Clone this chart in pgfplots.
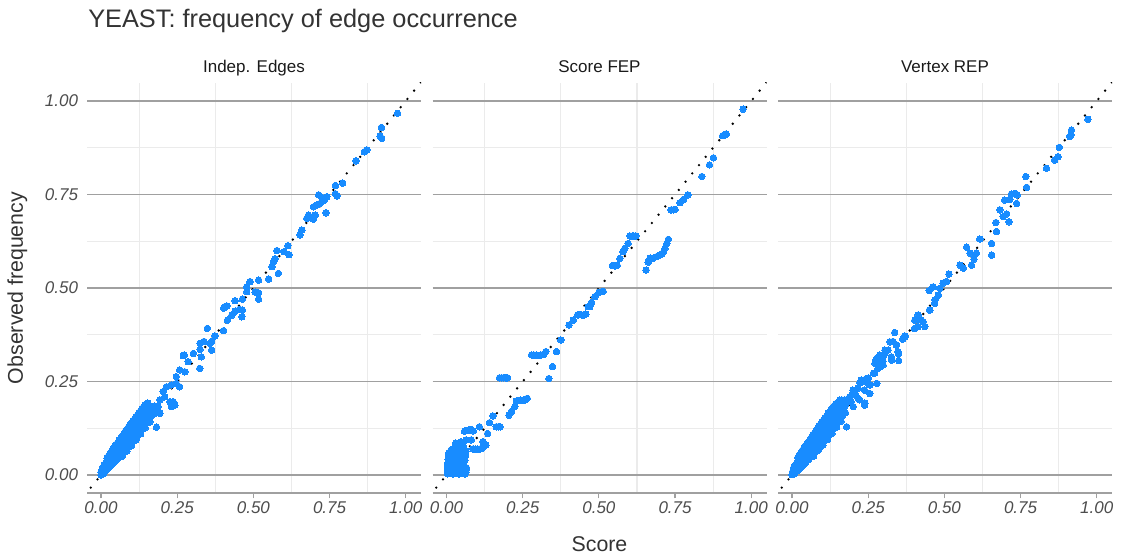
\documentclass[border=0pt]{standalone}
\usepackage{fontspec}
\setmainfont{Liberation Sans}
\usepackage{pgfplots}
\pgfplotsset{compat=1.18}
\definecolor{ptblue}{RGB}{24,140,255}
\definecolor{gridmaj}{RGB}{160,160,160}
\definecolor{gridmin}{RGB}{235,235,235}
\definecolor{ticktext}{RGB}{77,77,77}
\definecolor{titletext}{RGB}{51,51,51}
\definecolor{striptext}{RGB}{26,26,26}
\tikzset{strip/.style={font=\fontsize{12.75}{14}\selectfont, text=striptext, anchor=base, inner sep=0pt}}
\pgfplotsset{
  panel/.style={
    scale only axis, width=250.5pt, height=307.5pt,
    xmin=-0.046, xmax=1.05, ymin=-0.048, ymax=1.048,
    xtick={0,0.25,0.5,0.75,1}, xticklabels={0.00,0.25,0.50,0.75,1.00},
    minor xtick={0.125,0.375,0.625,0.875},
    ytick={0,0.25,0.5,0.75,1},
    minor ytick={0.125,0.375,0.625,0.875},
    xmajorgrids=false, xminorgrids=true, ymajorgrids=true, yminorgrids=true,
    major y grid style={draw=gridmaj, line width=0.9pt},
    minor x grid style={draw=gridmin, line width=0.8pt},
    minor y grid style={draw=gridmin, line width=0.8pt},
    axis x line*=bottom, axis y line*=left,
    x axis line style={draw=gridmaj, line width=0.9pt, -},
    y axis line style={draw=none},
    xtick align=outside,
    major tick length=4pt, minor tick length=0pt,
    xtick style={draw=gridmaj, line width=0.9pt},
    ytick style={draw=none},
    tick label style={font=\fontsize{12.75}{14}\selectfont\itshape, text=ticktext},
    yticklabel style={xshift=-3.2pt},
    xticklabel style={yshift=0.9pt},
    mark size=2.45pt,
  },
  pts/.style={only marks, mark=*, color=ptblue, mark options={draw=ptblue, fill=ptblue, line width=0pt}},
  diag/.style={black, line width=2pt, dash pattern=on 0pt off 8pt, line cap=round},
}
\begin{document}
\begin{tikzpicture}
\path[use as bounding box] (0,0) rectangle (841.5pt,416.25pt);
\node[anchor=base west, inner sep=0pt, font=\fontsize{19}{22}\selectfont, text=titletext] at (66pt,395.6pt) {YEAST: frequency of edge occurrence};
\node[anchor=center, font=\fontsize{16}{18}\selectfont, text=titletext] at (449.6pt,8pt) {Score};
\node[anchor=center, rotate=90, font=\fontsize{16}{18}\selectfont, text=titletext] at (13pt,200.25pt) {Observed frequency};
\node[strip] at (190.5pt,361.7pt) {Indep. Edges};
\node[strip] at (449.625pt,361.7pt) {Score FEP};
\node[strip] at (708.75pt,361.7pt) {Vertex REP};

% ---------------- Panel 1: Indep. Edges ----------------
\begin{axis}[panel, at={(65.25pt,46.5pt)}, anchor=south west,
  yticklabels={0.00,0.25,0.50,0.75,1.00}]
\addplot[pts] coordinates {
(0.000,0.000) (0.000,0.008)
(0.005,0.002) (0.005,0.012) (0.005,0.020)
(0.010,0.006) (0.010,0.016) (0.010,0.026)
(0.015,0.012) (0.015,0.022) (0.015,0.032)
(0.020,0.016) (0.020,0.027) (0.020,0.038) (0.020,0.045)
(0.025,0.020) (0.025,0.032) (0.025,0.044) (0.025,0.052)
(0.030,0.024) (0.030,0.036) (0.030,0.048) (0.030,0.058)
(0.035,0.028) (0.035,0.040) (0.035,0.054) (0.035,0.064)
(0.040,0.032) (0.040,0.045) (0.040,0.058) (0.040,0.070)
(0.045,0.036) (0.045,0.050) (0.045,0.064) (0.045,0.077)
(0.050,0.040) (0.050,0.054) (0.050,0.068) (0.050,0.082)
(0.055,0.045) (0.055,0.059) (0.055,0.073) (0.055,0.087)
(0.060,0.048) (0.060,0.063) (0.060,0.078) (0.060,0.093)
(0.065,0.052) (0.065,0.068) (0.065,0.084) (0.065,0.099)
(0.070,0.056) (0.070,0.072) (0.070,0.089) (0.070,0.105)
(0.075,0.060) (0.075,0.077) (0.075,0.094) (0.075,0.110)
(0.080,0.064) (0.080,0.082) (0.080,0.100) (0.080,0.117)
(0.085,0.069) (0.085,0.087) (0.085,0.105) (0.085,0.122)
(0.090,0.074) (0.090,0.093) (0.090,0.111) (0.090,0.128)
(0.095,0.079) (0.095,0.098) (0.095,0.116) (0.095,0.134)
(0.100,0.084) (0.100,0.103) (0.100,0.122) (0.100,0.140)
(0.105,0.090) (0.105,0.108) (0.105,0.127) (0.105,0.145)
(0.110,0.095) (0.110,0.114) (0.110,0.133) (0.110,0.150)
(0.115,0.100) (0.115,0.119) (0.115,0.138) (0.115,0.156)
(0.120,0.106) (0.120,0.125) (0.120,0.143) (0.120,0.161)
(0.125,0.112) (0.125,0.130) (0.125,0.149) (0.125,0.167)
(0.130,0.118) (0.130,0.136) (0.130,0.154) (0.130,0.172)
(0.135,0.124) (0.135,0.142) (0.135,0.160) (0.135,0.178)
(0.140,0.130) (0.140,0.148) (0.140,0.165) (0.140,0.183)
(0.145,0.136) (0.145,0.153) (0.145,0.171) (0.145,0.188)
(0.150,0.142) (0.150,0.158) (0.150,0.176)
(0.155,0.148) (0.155,0.164) (0.155,0.182)
(0.160,0.152) (0.160,0.170)
(0.168,0.160) (0.168,0.178)
(0.175,0.165) (0.175,0.184)
(0.070,0.050) (0.085,0.064) (0.100,0.079) (0.115,0.094) (0.130,0.110) (0.145,0.126) (0.160,0.142)
(0.154,0.192) (0.160,0.174) (0.176,0.165) (0.193,0.165) (0.182,0.128)
(0.193,0.201) (0.187,0.183) (0.209,0.209) (0.204,0.223) (0.226,0.196)
(0.237,0.196) (0.242,0.187) (0.231,0.183) (0.215,0.236) (0.231,0.241)
(0.247,0.245) (0.258,0.236) (0.247,0.263) (0.258,0.281) (0.275,0.276)
(0.286,0.303) (0.324,0.285) (0.273,0.321) (0.270,0.319) (0.303,0.325)
(0.329,0.316) (0.325,0.336) (0.363,0.334) (0.325,0.352) (0.338,0.357)
(0.357,0.352) (0.363,0.357) (0.374,0.372) (0.349,0.392) (0.402,0.386)
(0.415,0.414) (0.429,0.427) (0.462,0.423) (0.440,0.438) (0.464,0.441)
(0.454,0.443) (0.402,0.446) (0.413,0.452) (0.406,0.450) (0.440,0.466)
(0.464,0.470) (0.517,0.470) (0.517,0.487) (0.506,0.489) (0.478,0.490)
(0.478,0.503) (0.489,0.517) (0.517,0.521) (0.550,0.524) (0.582,0.539)
(0.561,0.557) (0.566,0.570) (0.571,0.578) (0.577,0.600) (0.600,0.597)
(0.617,0.589) (0.613,0.613)
(0.653,0.642) (0.659,0.655) (0.697,0.684) (0.675,0.686) (0.681,0.695)
(0.703,0.695) (0.738,0.701) (0.697,0.717) (0.708,0.722) (0.719,0.726)
(0.733,0.735) (0.741,0.744) (0.725,0.742) (0.714,0.749) (0.769,0.752)
(0.774,0.746) (0.769,0.774) (0.793,0.780) (0.837,0.840) (0.864,0.864)
(0.872,0.869) (0.921,0.900) (0.916,0.906) (0.920,0.929) (0.973,0.967)
};
\addplot[diag] coordinates {(-0.1,-0.1) (1.1,1.1)};
\end{axis}

% ---------------- Panel 2: Score FEP ----------------
\begin{axis}[panel, at={(324.375pt,46.5pt)}, anchor=south west,
  yticklabels={}]
\addplot[pts] coordinates {
(0.003,0.003) (0.003,0.012) (0.003,0.022) (0.004,0.032) (0.005,0.042) (0.006,0.052) (0.008,0.060)
(0.010,0.004) (0.012,0.015) (0.012,0.026) (0.013,0.038) (0.014,0.048) (0.015,0.058) (0.016,0.068)
(0.020,0.003) (0.022,0.012) (0.022,0.022) (0.024,0.034) (0.026,0.045) (0.026,0.056) (0.028,0.066) (0.028,0.076) (0.030,0.085)
(0.030,0.004) (0.032,0.014) (0.034,0.028) (0.036,0.040) (0.036,0.052) (0.038,0.063) (0.040,0.074) (0.042,0.082)
(0.040,0.003) (0.044,0.012) (0.046,0.022) (0.048,0.034) (0.050,0.046) (0.050,0.058) (0.052,0.068) (0.054,0.078)
(0.050,0.004) (0.056,0.014) (0.058,0.026) (0.060,0.040) (0.062,0.052) (0.064,0.064)
(0.060,0.003) (0.064,0.008) (0.066,0.018)
(0.064,0.094) (0.047,0.089) (0.042,0.080)
(0.059,0.117) (0.066,0.119) (0.072,0.120) (0.080,0.122) (0.088,0.118)
(0.108,0.129) (0.135,0.111) (0.124,0.080) (0.129,0.080) (0.119,0.089) (0.081,0.094)
(0.087,0.070) (0.095,0.069) (0.103,0.069) (0.110,0.070) (0.118,0.072)
(0.141,0.140) (0.163,0.129) (0.170,0.129) (0.176,0.129) (0.152,0.158)
(0.205,0.160) (0.213,0.170) (0.224,0.183)
(0.229,0.198) (0.236,0.199) (0.244,0.200) (0.251,0.200) (0.258,0.201) (0.265,0.205)
(0.174,0.260) (0.181,0.260) (0.188,0.260) (0.195,0.260) (0.200,0.260)
(0.279,0.321) (0.287,0.321) (0.295,0.321) (0.303,0.320) (0.310,0.321) (0.318,0.322) (0.326,0.330)
(0.336,0.258) (0.348,0.290) (0.361,0.330) (0.375,0.361)
(0.402,0.401) (0.416,0.414)
(0.430,0.428) (0.437,0.429) (0.444,0.428) (0.450,0.428) (0.457,0.430)
(0.465,0.450) (0.470,0.450) (0.476,0.461) (0.487,0.477)
(0.500,0.488) (0.508,0.490) (0.514,0.491)
(0.545,0.560) (0.552,0.559) (0.560,0.561)
(0.569,0.579) (0.579,0.597) (0.585,0.606) (0.596,0.619)
(0.602,0.639) (0.609,0.639) (0.615,0.639) (0.621,0.639)
(0.655,0.548) (0.662,0.569) (0.668,0.580) (0.679,0.580) (0.690,0.584) (0.699,0.588)
(0.706,0.591) (0.712,0.596) (0.717,0.606) (0.723,0.619) (0.728,0.630)
(0.737,0.709) (0.744,0.709) (0.750,0.710)
(0.766,0.728) (0.778,0.737) (0.792,0.749)
(0.838,0.798) (0.863,0.829) (0.876,0.848)
(0.906,0.907) (0.912,0.909) (0.918,0.911)
(0.973,0.978)
};
\addplot[diag] coordinates {(-0.1,-0.1) (1.1,1.1)};
\end{axis}

% ---------------- Panel 3: Vertex REP ----------------
\begin{axis}[panel, at={(583.5pt,46.5pt)}, anchor=south west,
  yticklabels={}]
\addplot[pts] coordinates {
(0.000,0.001) (0.002,0.009)
(0.006,0.003) (0.006,0.013) (0.006,0.021)
(0.011,0.007) (0.011,0.017) (0.011,0.027)
(0.016,0.011) (0.016,0.023) (0.016,0.034)
(0.021,0.015) (0.021,0.028) (0.021,0.040) (0.019,0.047)
(0.026,0.019) (0.026,0.033) (0.026,0.046) (0.024,0.054)
(0.031,0.023) (0.031,0.037) (0.031,0.050) (0.029,0.060)
(0.036,0.027) (0.036,0.041) (0.036,0.055) (0.034,0.066)
(0.041,0.031) (0.041,0.046) (0.041,0.060) (0.039,0.072)
(0.046,0.035) (0.046,0.051) (0.046,0.066) (0.044,0.079)
(0.051,0.040) (0.051,0.056) (0.051,0.070) (0.049,0.084)
(0.056,0.044) (0.056,0.060) (0.056,0.075) (0.054,0.089)
(0.061,0.048) (0.061,0.065) (0.061,0.080) (0.059,0.095)
(0.066,0.052) (0.066,0.069) (0.066,0.086) (0.064,0.101)
(0.071,0.056) (0.071,0.074) (0.071,0.091) (0.069,0.107)
(0.076,0.061) (0.076,0.079) (0.076,0.096) (0.074,0.113)
(0.081,0.065) (0.081,0.084) (0.081,0.102) (0.079,0.119)
(0.086,0.070) (0.086,0.089) (0.086,0.107) (0.084,0.125)
(0.091,0.075) (0.091,0.094) (0.091,0.113) (0.089,0.131)
(0.096,0.080) (0.096,0.100) (0.096,0.118) (0.094,0.137)
(0.101,0.085) (0.101,0.105) (0.101,0.124) (0.099,0.143)
(0.106,0.091) (0.106,0.110) (0.106,0.129) (0.104,0.148)
(0.111,0.096) (0.111,0.116) (0.111,0.135) (0.109,0.153)
(0.116,0.101) (0.116,0.121) (0.116,0.140) (0.114,0.159)
(0.121,0.107) (0.121,0.127) (0.121,0.146) (0.119,0.165)
(0.126,0.113) (0.126,0.132) (0.126,0.151) (0.124,0.170)
(0.131,0.119) (0.131,0.138) (0.131,0.157) (0.129,0.176)
(0.136,0.125) (0.136,0.144) (0.136,0.163) (0.134,0.181)
(0.141,0.131) (0.141,0.150) (0.141,0.168) (0.139,0.186)
(0.146,0.137) (0.146,0.155) (0.146,0.174) (0.144,0.191)
(0.151,0.143) (0.151,0.161) (0.151,0.179)
(0.156,0.149) (0.156,0.167) (0.156,0.185)
(0.161,0.154) (0.161,0.173)
(0.168,0.161) (0.168,0.180)
(0.175,0.167) (0.175,0.186)
(0.071,0.051) (0.086,0.066) (0.101,0.080) (0.116,0.095) (0.131,0.111) (0.146,0.128) (0.161,0.144)
(0.179,0.129) (0.156,0.200) (0.162,0.196) (0.173,0.201) (0.163,0.201)
(0.179,0.196) (0.194,0.196) (0.201,0.183) (0.189,0.209) (0.196,0.214)
(0.207,0.218) (0.217,0.205) (0.222,0.201) (0.238,0.187) (0.239,0.192)
(0.200,0.227) (0.216,0.232) (0.238,0.227) (0.255,0.218) (0.227,0.254)
(0.244,0.258) (0.249,0.245) (0.256,0.241) (0.278,0.245) (0.223,0.247)
(0.239,0.250) (0.250,0.259) (0.267,0.272) (0.271,0.272) (0.282,0.285)
(0.289,0.290) (0.299,0.294) (0.272,0.299) (0.298,0.303) (0.276,0.308)
(0.278,0.312) (0.299,0.316) (0.288,0.321) (0.304,0.325) (0.305,0.334)
(0.326,0.316) (0.350,0.306) (0.327,0.307) (0.349,0.325) (0.348,0.330)
(0.315,0.334) (0.343,0.348) (0.342,0.348) (0.321,0.356) (0.331,0.357)
(0.363,0.363) (0.371,0.370) (0.370,0.372) (0.337,0.381) (0.402,0.392)
(0.414,0.397) (0.436,0.397) (0.430,0.410) (0.403,0.414) (0.424,0.414)
(0.414,0.428) (0.452,0.441) (0.451,0.441) (0.468,0.459) (0.469,0.468)
(0.480,0.481) (0.450,0.493) (0.485,0.499) (0.463,0.503) (0.496,0.513)
(0.507,0.517) (0.515,0.537) (0.562,0.553) (0.551,0.561) (0.589,0.561)
(0.597,0.577) (0.584,0.593) (0.605,0.593) (0.573,0.609) (0.655,0.588)
(0.655,0.619) (0.616,0.631) (0.671,0.651) (0.669,0.675) (0.712,0.677)
(0.693,0.691) (0.704,0.698) (0.682,0.709) (0.737,0.726) (0.698,0.735)
(0.715,0.737) (0.739,0.749) (0.720,0.751) (0.731,0.753) (0.770,0.769)
(0.767,0.798) (0.835,0.820) (0.862,0.842) (0.873,0.851) (0.877,0.876)
(0.911,0.905) (0.915,0.909) (0.917,0.922) (0.971,0.951)
};
\addplot[diag] coordinates {(-0.1,-0.1) (1.1,1.1)};
\end{axis}
\end{tikzpicture}
\end{document}
